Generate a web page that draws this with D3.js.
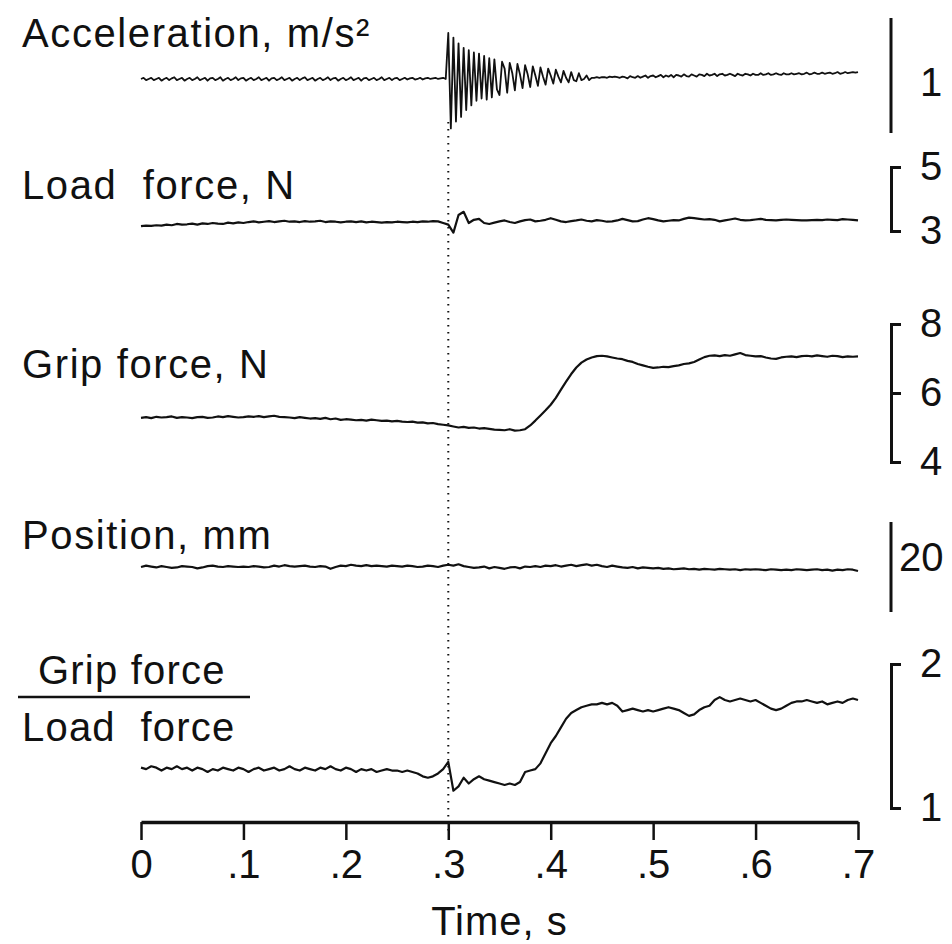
<!DOCTYPE html>
<html><head><meta charset="utf-8">
<script src="https://cdn.jsdelivr.net/npm/d3@7"></script>
<style>
body{margin:0;background:#fff}
text{font-family:"Liberation Sans",Arial,Helvetica,sans-serif;fill:#111;white-space:pre}
</style>
</head><body>
<svg id="chart" width="952" height="944"></svg>
<script>
// ---------------- data ----------------
const timeTicks = [0, .1, .2, .3, .4, .5, .6, .7];
const tickLabels = ["0", ".1", ".2", ".3", ".4", ".5", ".6", ".7"];
const eventTime = 0.3;

// acceleration (m/s^2), sampled every 2.5 ms from 0 to 0.7 s
const accelDt = 0.0025;
const acceleration = [
-.03,-.02,-.04,-.03,-.02,-.04,-.03,-.02,-.045,-.03,
-.02,-.04,-.025,-.015,-.04,-.03,-.02,-.045,-.03,-.02,
-.04,-.03,-.015,-.04,-.03,-.02,-.045,-.025,-.02,-.04,
-.03,-.015,-.045,-.03,-.02,-.04,-.03,-.015,-.04,-.025,
-.02,-.045,-.03,-.02,-.04,-.03,-.015,-.04,-.03,-.02,
-.045,-.025,-.02,-.04,-.03,-.015,-.04,-.03,-.02,-.045,
-.03,-.02,-.04,-.025,-.015,-.04,-.03,-.02,-.045,-.03,
-.02,-.04,-.03,-.015,-.04,-.025,-.02,-.045,-.03,-.02,
-.04,-.03,-.015,-.04,-.03,-.02,-.045,-.025,-.02,-.04,
-.03,-.02,-.04,-.03,-.015,-.04,-.03,-.02,-.04,-.025,
-.02,-.04,-.03,-.02,-.035,-.025,-.02,-.035,-.03,-.02,
-.035,-.025,-.02,-.03,-.025,-.02,-.03,-.025,-.02,-.03,
.37,-.46,.33,-.40,.28,-.36,.24,-.30,.22,-.26,
.20,-.22,.19,-.20,.17,-.21,.15,-.19,.14,-.12,
-.17,.12,.06,-.15,.11,.02,-.13,.10,.01,-.11,
.09,.01,-.10,.08,.00,-.09,.07,-.01,-.08,.06,
.00,-.07,.05,-.01,-.06,.04,-.02,-.06,.03,-.04,
-.05,.02,-.04,-.03,.00,-.04,-.02,
-.02,-.015,-.02,-.015,-.015,-.02,-.01,-.015,-.01,-.015,
-.02,-.01,-.015,-.025,-.005,-.015,-.02,-.005,-.02,-.01,
0,-.02,-.005,0,-.015,-.005,.005,-.015,0,-.01,
.005,-.015,.005,0,-.01,.01,-.005,-.01,.01,0,
-.01,.01,.005,-.005,.015,0,.005,.015,-.005,.01,
.015,0,.005,.015,.005,-.005,.015,.005,0,.015,
.01,0,.015,.005,.005,.02,.005,.01,.02,.005,
.01,.02,.01,.005,.02,.01,.01,.02,.01,.015,
.02,.01,.015,.025,.01,.015,.025,.015,.015,.025,
.015,.02,.025,.015,.02,.03,.015,.02,.03,.02,
.025,.03,.025,.03
];

// other signals sampled every 5 ms from 0 to 0.7 s
const signalDt = 0.005;
const loadForce = [ // N
3.15,3.17,3.16,3.18,3.17,3.2,3.18,3.22,3.2,3.21,
3.23,3.2,3.24,3.22,3.25,3.23,3.22,3.26,3.24,3.27,
3.25,3.28,3.3,3.27,3.29,3.31,3.28,3.3,3.32,3.29,
3.3,3.28,3.31,3.29,3.3,3.32,3.28,3.3,3.29,3.27,
3.29,3.3,3.28,3.3,3.27,3.29,3.28,3.26,3.28,3.27,
3.29,3.28,3.27,3.29,3.28,3.3,3.29,3.31,3.3,3.25,
3.2,2.95,3.5,3.6,3.25,3.35,3.38,3.25,3.22,3.26,
3.3,3.33,3.28,3.25,3.3,3.34,3.36,3.3,3.32,3.35,
3.4,3.35,3.3,3.28,3.31,3.33,3.36,3.32,3.3,3.34,
3.32,3.29,3.3,3.33,3.38,3.34,3.3,3.31,3.36,3.4,
3.37,3.33,3.3,3.32,3.34,3.33,3.38,3.42,3.4,3.38,
3.36,3.37,3.35,3.3,3.33,3.36,3.39,3.35,3.33,3.34,
3.36,3.38,3.35,3.34,3.33,3.35,3.36,3.35,3.34,3.33,
3.33,3.34,3.35,3.34,3.36,3.35,3.34,3.37,3.36,3.35,
3.33
];
const gripForce = [ // N
5.28,5.3,5.27,5.31,5.29,5.3,5.32,5.28,5.3,5.29,
5.27,5.3,5.31,5.28,5.29,5.32,5.3,5.33,5.31,5.29,
5.3,5.32,5.31,5.33,5.3,5.32,5.34,5.31,5.3,5.29,
5.27,5.3,5.28,5.26,5.27,5.25,5.28,5.24,5.26,5.22,
5.24,5.23,5.21,5.22,5.2,5.23,5.21,5.19,5.2,5.18,
5.19,5.17,5.16,5.17,5.14,5.15,5.12,5.13,5.1,5.08,
5.06,5.03,5.0,5.02,4.99,5.0,4.97,4.98,4.96,4.94,
4.93,4.92,4.95,4.91,4.92,4.95,5.06,5.2,5.35,5.5,
5.66,5.86,6.1,6.33,6.55,6.74,6.88,6.97,7.03,7.07,
7.08,7.06,7.03,7.0,6.98,6.93,6.9,6.84,6.8,6.76,
6.73,6.74,6.76,6.75,6.78,6.8,6.84,6.86,6.9,6.97,
7.04,7.08,7.09,7.07,7.1,7.08,7.12,7.16,7.1,7.08,
7.06,7.07,7.03,7.0,6.99,7.03,7.05,7.06,7.04,7.07,
7.08,7.06,7.09,7.07,7.05,7.08,7.07,7.04,7.06,7.05,
7.06
];
const position = [ // mm
10.0,10.3,10.1,9.9,10.2,10.0,9.8,9.9,10.2,10.1,
10.0,9.7,9.9,10.2,10.3,10.1,10.0,10.2,10.1,10.0,
10.1,10.0,10.2,10.1,9.9,10.0,10.3,10.1,10.4,10.2,
10.1,10.2,10.3,10.1,10.0,10.2,10.1,9.6,10.0,10.3,
10.2,10.5,10.3,10.2,10.4,10.2,10.3,10.2,10.1,10.3,
10.2,10.1,10.3,10.2,10.0,10.1,10.3,10.2,10.0,10.3,
10.5,10.3,10.6,10.2,10.0,9.8,9.9,10.1,9.7,10.0,
9.8,9.6,9.9,10.0,9.7,10.1,10.0,10.2,10.0,10.3,
10.2,10.4,10.1,10.3,10.5,10.2,10.4,10.6,10.3,10.5,
10.2,10.0,10.3,10.1,9.9,9.8,10.0,9.7,9.9,9.8,
9.7,9.8,9.6,9.7,9.5,9.6,9.7,9.5,9.6,9.4,
9.6,9.5,9.4,9.6,9.5,9.4,9.5,9.3,9.5,9.4,
9.5,9.4,9.3,9.5,9.4,9.3,9.4,9.3,9.5,9.4,
9.3,9.4,9.5,9.3,9.4,9.2,9.4,9.3,9.5,9.4,
9.1
];
const gripLoadRatio = [
1.28,1.27,1.29,1.28,1.26,1.28,1.27,1.29,1.27,1.28,
1.26,1.28,1.27,1.25,1.27,1.26,1.28,1.27,1.26,1.28,
1.27,1.25,1.27,1.28,1.26,1.27,1.28,1.26,1.27,1.29,
1.27,1.26,1.28,1.27,1.26,1.28,1.27,1.29,1.27,1.26,
1.28,1.27,1.25,1.27,1.26,1.27,1.25,1.26,1.27,1.26,
1.26,1.25,1.26,1.25,1.24,1.22,1.21,1.22,1.24,1.27,
1.32,1.12,1.15,1.21,1.17,1.2,1.22,1.2,1.19,1.18,
1.17,1.16,1.17,1.16,1.18,1.25,1.26,1.27,1.31,1.38,
1.45,1.5,1.56,1.62,1.66,1.68,1.7,1.71,1.72,1.72,
1.73,1.72,1.73,1.71,1.67,1.68,1.69,1.68,1.67,1.68,
1.67,1.68,1.69,1.7,1.69,1.68,1.66,1.64,1.65,1.68,
1.7,1.71,1.75,1.77,1.75,1.74,1.75,1.76,1.75,1.74,
1.75,1.73,1.71,1.69,1.68,1.69,1.71,1.73,1.74,1.74,
1.75,1.74,1.73,1.74,1.72,1.73,1.74,1.73,1.75,1.76,
1.75
];

// scale-bar annotations
const accelBar = [-0.5, 0.5];      const accelBarLabel = "1";
const loadTicks = [3, 5];
const gripTicks = [4, 6, 8];
const positionBar = [0, 20];       const positionBarLabel = "20";
const ratioTicks = [1, 2];

const titles = ["Acceleration, m/s²", "Load  force, N", "Grip force, N", "Position, mm"];
const ratioNumerator = "Grip force", ratioDenominator = "Load  force";
const xTitle = "Time, s";

// ---------------- drawing ----------------
const svg = d3.select("#chart");
const FONT = 40;
const x = d3.scaleLinear().domain([0, 0.7]).range([141, 858]);
const barX = 891;

const yAccel = d3.scaleLinear().domain([-0.5, 0.5]).range([133, 18]);
const yLoad  = d3.scaleLinear().domain([3, 5]).range([231, 167]);
const yGrip  = d3.scaleLinear().domain([4, 8]).range([462, 324]);
const yPos   = d3.scaleLinear().domain([0, 20]).range([612, 522]);
const yRatio = d3.scaleLinear().domain([1, 2]).range([808, 664]);

function trace(values, dt, y, w) {
  svg.append("path")
    .datum(values)
    .attr("fill", "none").attr("stroke", "#111")
    .attr("stroke-width", w).attr("stroke-linejoin", "round")
    .attr("d", d3.line().x((d, i) => x(i * dt)).y(d => y(d)));
}

// event marker (dotted)
svg.append("line")
  .attr("x1", x(eventTime)).attr("x2", x(eventTime))
  .attr("y1", 122).attr("y2", 832)
  .attr("stroke", "#111").attr("stroke-width", 2)
  .attr("stroke-dasharray", "1.5,5.5");

trace(acceleration, accelDt, yAccel, 1.8);
trace(loadForce, signalDt, yLoad, 2.2);
trace(gripForce, signalDt, yGrip, 2.2);
trace(position, signalDt, yPos, 2.2);
trace(gripLoadRatio, signalDt, yRatio, 2.2);

// titles
const titleY = [47, 199, 378, 549];
titles.forEach((t, i) => {
  svg.append("text").attr("x", 22).attr("y", titleY[i])
    .attr("font-size", FONT).attr("letter-spacing", 1.6).text(t);
});
svg.append("text").attr("x", 38).attr("y", 684).attr("font-size", FONT)
  .attr("letter-spacing", 1.2).text(ratioNumerator);
svg.append("line").attr("x1", 18).attr("x2", 250).attr("y1", 697).attr("y2", 697)
  .attr("stroke", "#111").attr("stroke-width", 2.5);
svg.append("text").attr("x", 22).attr("y", 741).attr("font-size", FONT)
  .attr("letter-spacing", 1.2).text(ratioDenominator);

// plain scale bars
function bar(y, ext, label, lx, ly) {
  svg.append("line").attr("x1", barX).attr("x2", barX)
    .attr("y1", y(ext[0])).attr("y2", y(ext[1]))
    .attr("stroke", "#111").attr("stroke-width", 3);
  svg.append("text").attr("x", lx).attr("y", ly).attr("font-size", FONT)
    .attr("dominant-baseline", "central").text(label);
}
bar(yAccel, accelBar, accelBarLabel, 920, 82);
bar(yPos, positionBar, positionBarLabel, 899, 557);

// bracket axes
function bracket(y, ticks) {
  const g = svg.append("g").attr("transform", `translate(${barX},0)`)
    .call(d3.axisRight(y).tickValues(ticks).tickSize(10).tickSizeOuter(10)
      .tickPadding(19).tickFormat(d3.format("d")));
  g.select(".domain").attr("stroke", "#111").attr("stroke-width", 3);
  g.selectAll(".tick line").attr("stroke", "#111").attr("stroke-width", 3);
  g.selectAll(".tick text").attr("font-size", FONT)
    .attr("font-family", '"Liberation Sans",Arial,sans-serif').attr("fill", "#111");
}
bracket(yLoad, loadTicks);
bracket(yGrip, gripTicks);
bracket(yRatio, ratioTicks);

// time axis
const ax = svg.append("g").attr("transform", "translate(0,822)")
  .call(d3.axisBottom(x).tickValues(timeTicks).tickSize(18).tickSizeOuter(0)
    .tickPadding(10).tickFormat((d, i) => tickLabels[i]));
ax.select(".domain").attr("stroke", "#111").attr("stroke-width", 3.5);
ax.selectAll(".tick line").attr("stroke", "#111").attr("stroke-width", 2.5);
ax.selectAll(".tick text").attr("font-size", FONT)
  .attr("font-family", '"Liberation Sans",Arial,sans-serif').attr("fill", "#111");

svg.append("text").attr("x", x(0.35)).attr("y", 935).attr("text-anchor", "middle")
  .attr("font-size", FONT).attr("letter-spacing", 1).text(xTitle);
</script>
</body></html>
